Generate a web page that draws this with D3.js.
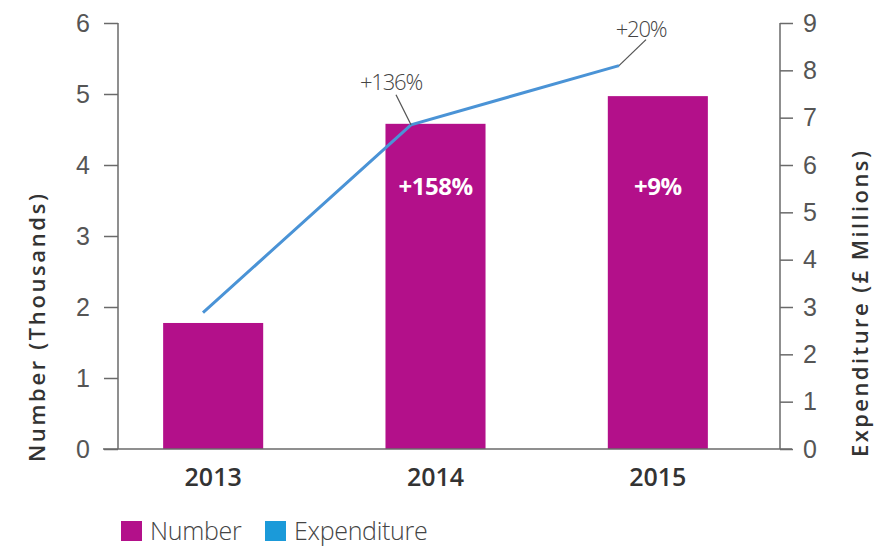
<!DOCTYPE html>
<html><head><meta charset="utf-8">
<script src="https://cdn.jsdelivr.net/npm/d3@7/dist/d3.min.js"></script>
<style>
body{margin:0;background:#fff;}
svg{display:block;font-family:"Open Sans",sans-serif;}
</style></head>
<body><svg id="c" width="886" height="546"></svg>
<script>
const years = ["2013","2014","2015"];
const numberVals = [1.775, 4.58, 4.97];
const expenditureVals = [2.88, 6.85, 8.1];
const numberLabels = ["", "+158%", "+9%"];
const expLabels = ["", "+136%", "+20%"];
const leftTicks = [0,1,2,3,4,5,6];
const rightTicks = [0,1,2,3,4,5,6,7,8,9];

const svg = d3.select("#c");
const purple = "#b3108a", blue = "#4a93d6", axisCol = "#6a6a6a", tickText = "#555";

const x = d3.scaleBand().domain(years).range([102, 769]).paddingInner(0.55).paddingOuter(0.275);
const xl = d3.scalePoint().domain(years).range([203, 619]);
const yL = d3.scaleLinear().domain([0,6]).range([449, 23]);
const yR = d3.scaleLinear().domain([0,9]).range([449, 23]);

// bars
svg.selectAll("rect.bar").data(years).join("rect")
  .attr("class","bar")
  .attr("x", d => x(d)).attr("width", x.bandwidth())
  .attr("y", (d,i) => yL(numberVals[i]))
  .attr("height", (d,i) => yL(0) - yL(numberVals[i]))
  .attr("fill", purple);

// baseline
svg.append("line").attr("x1",103).attr("x2",792).attr("y1",yL(0)).attr("y2",yL(0))
  .attr("stroke",axisCol).attr("stroke-width",1.5);

// left axis
const gL = svg.append("g").attr("transform","translate(118,0)")
  .call(d3.axisLeft(yL).tickValues(leftTicks).tickSize(14).tickPadding(14).tickFormat(d3.format("d")));
gL.select(".domain").attr("stroke",axisCol).attr("stroke-width",1.5).attr("d","M0,"+yL(6)+"V"+yL(0));
gL.selectAll(".tick line").attr("stroke",axisCol).attr("stroke-width",1.5);
gL.selectAll(".tick text").attr("fill",tickText).attr("font-size",25).attr("font-weight",300);

// right axis
const gR = svg.append("g").attr("transform","translate(780,0)")
  .call(d3.axisRight(yR).tickValues(rightTicks).tickSize(13).tickPadding(10).tickFormat(d3.format("d")));
gR.select(".domain").attr("stroke",axisCol).attr("stroke-width",1.5).attr("d","M0,"+yR(9)+"V"+yR(0));
gR.selectAll(".tick line").attr("stroke",axisCol).attr("stroke-width",1.5);
gR.selectAll(".tick text").attr("fill",tickText).attr("font-size",25).attr("font-weight",300);

// x labels
svg.selectAll("text.xl").data(years).join("text").attr("class","xl")
  .attr("x", d => x(d) + x.bandwidth()/2).attr("y", 486)
  .attr("text-anchor","middle").attr("font-size",25).attr("font-weight",600).attr("fill","#333")
  .text(d => d);

// line
const line = d3.line().x((d,i) => xl(years[i])).y(d => yR(d));
svg.append("path").datum(expenditureVals).attr("d", line)
  .attr("fill","none").attr("stroke",blue).attr("stroke-width",3);

// bar labels
svg.selectAll("text.bl").data(years).join("text").attr("class","bl")
  .attr("x", d => x(d) + x.bandwidth()/2).attr("y", 195)
  .attr("text-anchor","middle").attr("font-size",24).attr("font-weight",700).attr("fill","#fff")
  .attr("letter-spacing",-0.5)
  .text((d,i) => numberLabels[i]);

// line annotations
const annOff = [null, {dx:-15, dy:-30, lx:-20, ly:-35}, {dx:27, dy:-26, lx:22, ly:-29}];
years.forEach((yr,i) => {
  if (!expLabels[i]) return;
  const px = xl(yr), py = yR(expenditureVals[i]);
  const o = annOff[i];
  svg.append("line").attr("x1",px).attr("y1",py).attr("x2",px+o.dx).attr("y2",py+o.dy)
    .attr("stroke","#555").attr("stroke-width",1.3);
  svg.append("text").attr("x",px+o.lx).attr("y",py+o.ly).attr("text-anchor","middle")
    .attr("font-size",22).attr("font-weight",300).attr("fill","#444").attr("letter-spacing",-1.2)
    .text(expLabels[i]);
});

// axis titles
svg.append("text").attr("transform","translate(45,328) rotate(-90)").attr("text-anchor","middle")
  .attr("font-size",22).attr("font-weight",600).attr("fill","#333")
  .attr("textLength",268).attr("lengthAdjust","spacing").text("Number (Thousands)");
svg.append("text").attr("transform","translate(868,304) rotate(-90)").attr("text-anchor","middle")
  .attr("font-size",22).attr("font-weight",600).attr("fill","#333")
  .attr("textLength",306).attr("lengthAdjust","spacing").text("Expenditure (£ Millions)");

// legend
const legend = [{name:"Number", color:purple, x:121}, {name:"Expenditure", color:"#1b9ad9", x:265}];
legend.forEach(l => {
  svg.append("rect").attr("x",l.x).attr("y",521).attr("width",21).attr("height",20).attr("fill",l.color);
  svg.append("text").attr("x",l.x+29).attr("y",540).attr("font-size",25).attr("font-weight",300)
    .attr("fill","#444").attr("letter-spacing",-0.3).text(l.name);
});
</script></body></html>
